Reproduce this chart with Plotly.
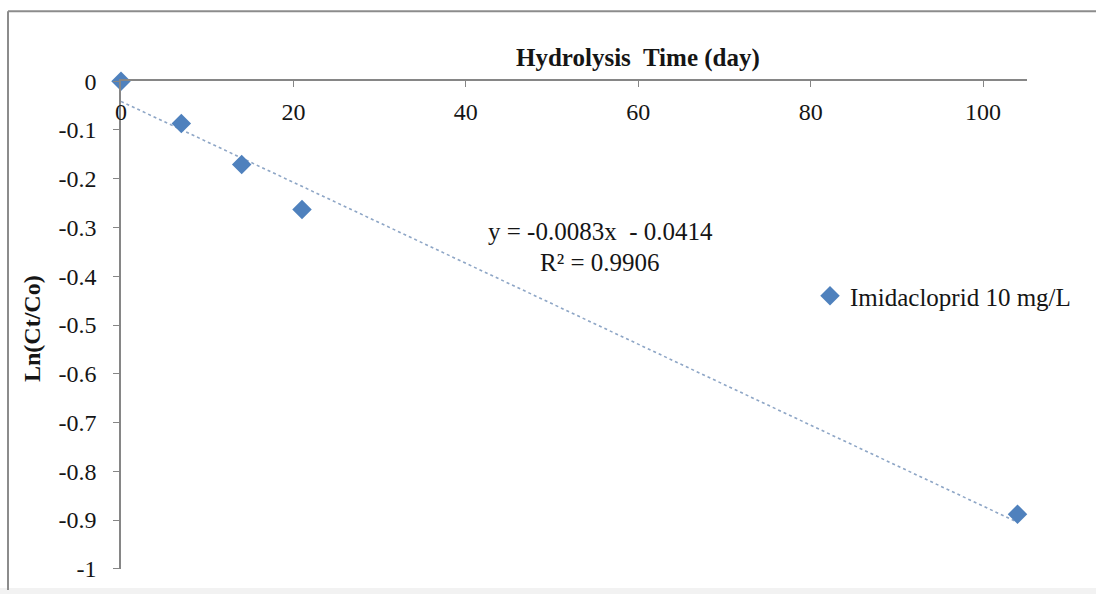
import plotly.graph_objects as go

# Hydrolysis of imidacloprid (10 mg/L): ln(Ct/Co) against time
days = [0, 7, 14, 21, 104]
ln_ratio = [0.0, -0.087, -0.171, -0.263, -0.888]
series_name = "Imidacloprid 10 mg/L"

# Linear fit reported on the chart
slope = -0.0083
intercept = -0.0414
r_squared = 0.9906
fit_days = [0, 104]

x_ticks = [0, 20, 40, 60, 80, 100]
y_ticks = [0, -0.1, -0.2, -0.3, -0.4, -0.5, -0.6, -0.7, -0.8, -0.9, -1]
y_tick_text = ["0", "-0.1", "-0.2", "-0.3", "-0.4", "-0.5", "-0.6", "-0.7", "-0.8", "-0.9", "-1"]

W, H = 1096, 594
L, R, T, B = 121, 69, 81, 23
pw, ph = W - L - R, H - T - B


def px_x(p):
    return (p - L) / pw


def px_y(p):
    return (H - B - p) / ph


FONT = "Liberation Serif, Times New Roman, serif"
AXIS = "#868686"
BLUE = "#4F81BD"
INK = "#151515"

fig = go.Figure()

fig.add_trace(go.Scatter(
    x=fit_days,
    y=[slope * d + intercept for d in fit_days],
    mode="lines",
    line=dict(color="#8EA6C6", width=1.6, dash="dot"),
    showlegend=False,
    hoverinfo="skip",
))

fig.add_trace(go.Scatter(
    x=days,
    y=ln_ratio,
    mode="markers",
    name=series_name,
    marker=dict(symbol="diamond", size=15, color=BLUE, line=dict(width=0)),
    cliponaxis=False,
))

fig.update_xaxes(
    range=[0, 105.1],
    side="top",
    showline=True, linecolor=AXIS, linewidth=1.5,
    ticks="inside", ticklen=6, tickcolor=AXIS, tickwidth=1,
    ticklabelposition="inside",
    ticklabeloverflow="allow",
    ticklabelstandoff=18,
    tickvals=x_ticks,
    tickfont=dict(family=FONT, size=24, color=INK),
    showgrid=False, zeroline=False,
)

fig.update_yaxes(
    range=[-1.0004, 0.0004],
    showline=True, linecolor=AXIS, linewidth=1.5,
    ticks="outside", ticklen=6, tickcolor=AXIS, tickwidth=1,
    tickvals=y_ticks, ticktext=y_tick_text,
    ticklabelstandoff=12,
    ticklabeloverflow="allow",
    tickfont=dict(family=FONT, size=24, color=INK),
    showgrid=False, zeroline=False,
)

annotations = [
    dict(text="<b>Hydrolysis  Time (day)</b>", x=px_x(638), y=px_y(58),
         font=dict(family=FONT, size=25, color=INK)),
    dict(text="<b>Ln(Ct/Co)</b>", x=px_x(32), y=px_y(330), textangle=-90,
         font=dict(family=FONT, size=24, color=INK)),
    dict(text=f"y = {slope}x  - {abs(intercept)}", x=px_x(600), y=px_y(232),
         font=dict(family=FONT, size=25, color=INK)),
    dict(text=f"R² = {r_squared}", x=px_x(600), y=px_y(263),
         font=dict(family=FONT, size=25, color=INK)),
]
for a in annotations:
    a.update(xref="paper", yref="paper", showarrow=False,
             xanchor="center", yanchor="middle")

fig.update_layout(
    width=W, height=H,
    margin=dict(l=L, r=R, t=T, b=B),
    paper_bgcolor="white", plot_bgcolor="white",
    annotations=annotations,
    showlegend=True,
    legend=dict(
        x=px_x(810), y=px_y(297), xanchor="left", yanchor="middle",
        bgcolor="rgba(0,0,0,0)", itemwidth=30,
        font=dict(family=FONT, size=25, color=INK),
    ),
    shapes=[
        # chart area frame
        dict(type="line", xref="paper", yref="paper",
             x0=px_x(8), x1=px_x(1100), y0=px_y(11), y1=px_y(11),
             line=dict(color="#8C8C8C", width=2)),
        dict(type="line", xref="paper", yref="paper",
             x0=px_x(8), x1=px_x(8), y0=px_y(11), y1=px_y(592),
             line=dict(color="#8C8C8C", width=2)),
        dict(type="rect", xref="paper", yref="paper", layer="below",
             x0=px_x(0), x1=px_x(1100), y0=px_y(590), y1=px_y(600),
             line=dict(width=0), fillcolor="#F2F2F2"),
    ],
)

fig.write_html("out.html")
